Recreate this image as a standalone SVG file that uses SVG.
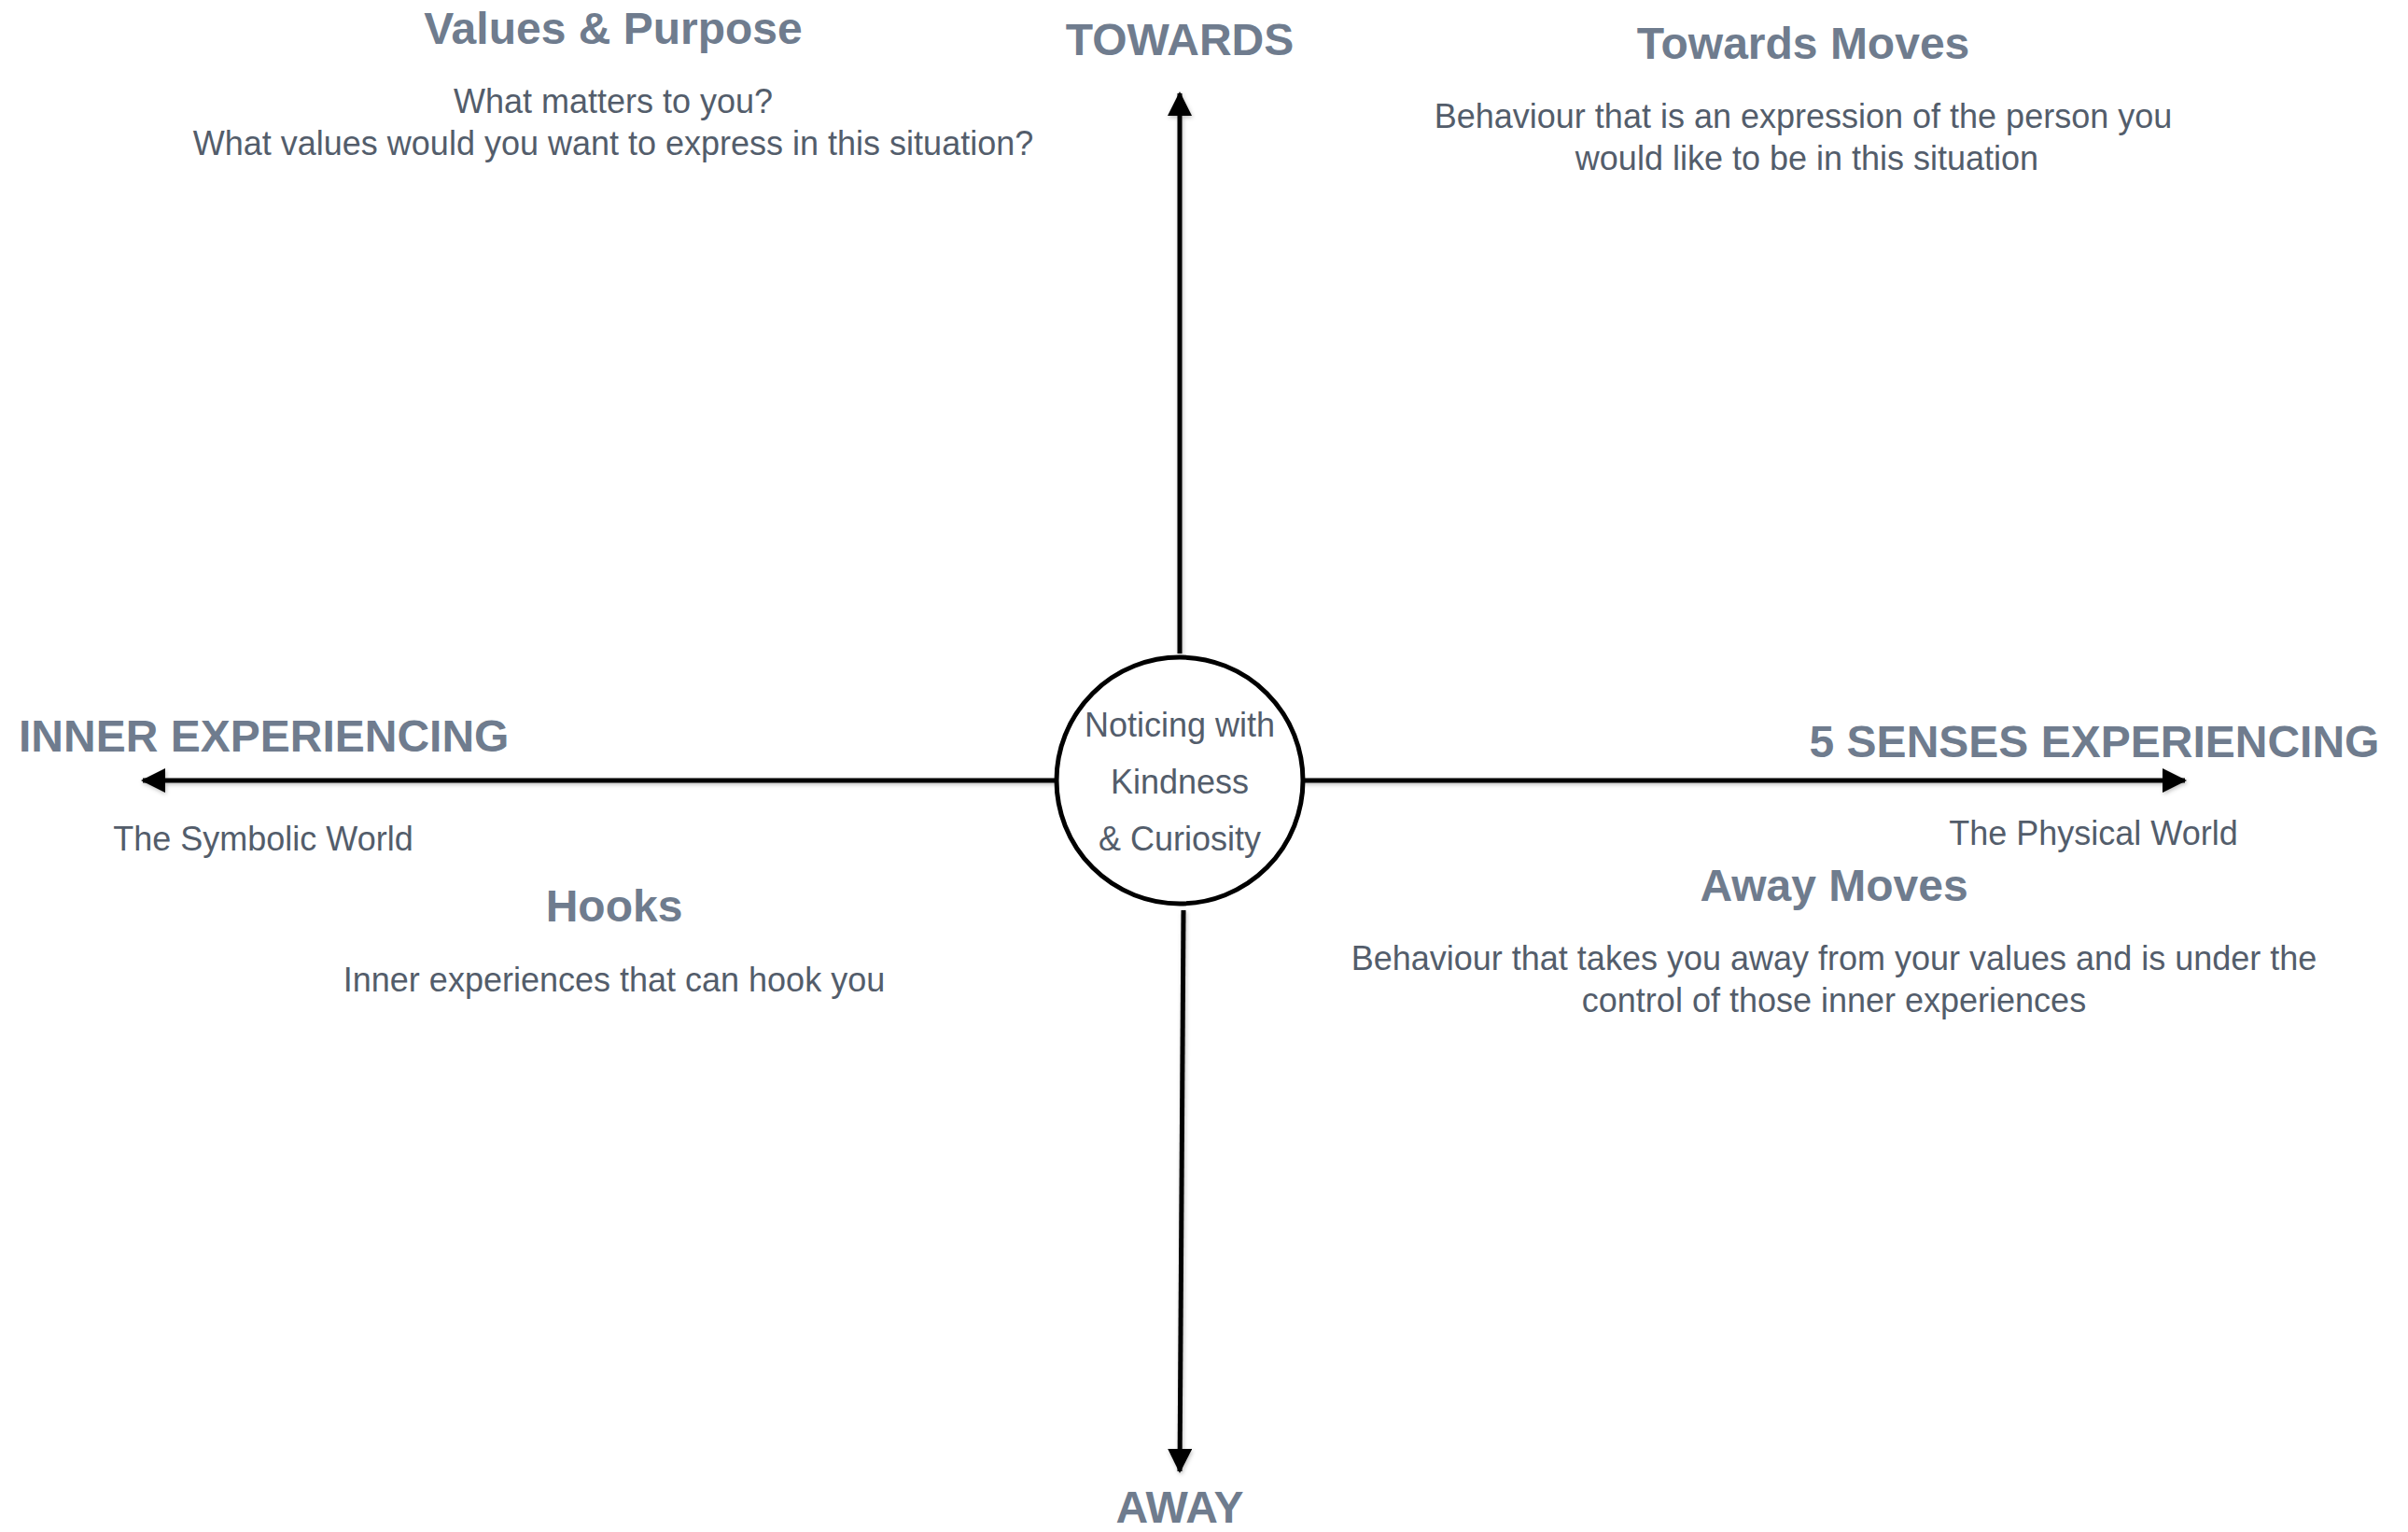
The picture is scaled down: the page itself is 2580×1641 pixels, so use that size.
<svg xmlns="http://www.w3.org/2000/svg" width="2580" height="1641" viewBox="0 0 2580 1641">
  <style>
    .h { font-family: "Liberation Sans", Arial, sans-serif; font-weight: bold; font-size: 48px; fill: #6f7c8e; }
    .b { font-family: "Liberation Sans", Arial, sans-serif; font-size: 36px; fill: #535d6b; }
    .c { text-anchor: middle; }
    .axis { stroke: #000; stroke-width: 5; fill: none; }
  </style>
  <defs>
    <filter id="sh" x="-20%" y="-20%" width="140%" height="140%">
      <feDropShadow dx="1" dy="2" stdDeviation="2" flood-color="#000" flood-opacity="0.25"/>
    </filter>
    <marker id="arr" viewBox="0 0 26 26" refX="24" refY="13" markerWidth="26" markerHeight="26" markerUnits="userSpaceOnUse" orient="auto">
      <path d="M0,0 L26,13 L0,26 Z" fill="#000"/>
    </marker>
  </defs>
  <rect width="2580" height="1641" fill="#fff"/>

  <g id="connectors" filter="url(#sh)">
    <line class="axis" x1="1264" y1="700" x2="1264" y2="100" marker-end="url(#arr)"/>
    <line class="axis" x1="1268" y1="975" x2="1264" y2="1576" marker-end="url(#arr)"/>
    <line class="axis" x1="1132" y1="836" x2="153" y2="836" marker-end="url(#arr)"/>
    <line class="axis" x1="1396" y1="836" x2="2341" y2="836" marker-end="url(#arr)"/>
  </g>

  <g id="center">
    <circle cx="1264" cy="836" r="132" fill="#fff" stroke="#000" stroke-width="5"/>
    <text class="b c" x="1264" y="789">Noticing with</text>
    <text class="b c" x="1264" y="850">Kindness</text>
    <text class="b c" x="1264" y="911">&amp; Curiosity</text>
  </g>

  <g id="towards"><text class="h c" x="1264" y="59">TOWARDS</text></g>
  <g id="away"><text class="h c" x="1264" y="1631">AWAY</text></g>

  <g id="inner-experiencing">
    <text class="h" x="20" y="805">INNER EXPERIENCING</text>
    <text class="b c" x="282" y="911">The Symbolic World</text>
  </g>

  <g id="senses-experiencing">
    <text class="h c" x="2244" y="811">5 SENSES EXPERIENCING</text>
    <text class="b c" x="2243" y="905">The Physical World</text>
  </g>

  <g id="values-purpose">
    <text class="h c" x="657" y="47">Values &amp; Purpose</text>
    <text class="b c" x="657" y="121">What matters to you?</text>
    <text class="b c" x="657" y="166">What values would you want to express in this situation?</text>
  </g>

  <g id="towards-moves">
    <text class="h c" x="1932" y="63">Towards Moves</text>
    <text class="b c" x="1932" y="137">Behaviour that is an expression of the person you</text>
    <text class="b c" x="1936" y="182">would like to be in this situation</text>
  </g>

  <g id="hooks">
    <text class="h c" x="658" y="987">Hooks</text>
    <text class="b c" x="658" y="1062">Inner experiences that can hook you</text>
  </g>

  <g id="away-moves">
    <text class="h c" x="1965" y="965">Away Moves</text>
    <text class="b c" x="1965" y="1039">Behaviour that takes you away from your values and is under the</text>
    <text class="b c" x="1965" y="1084">control of those inner experiences</text>
  </g>
</svg>
